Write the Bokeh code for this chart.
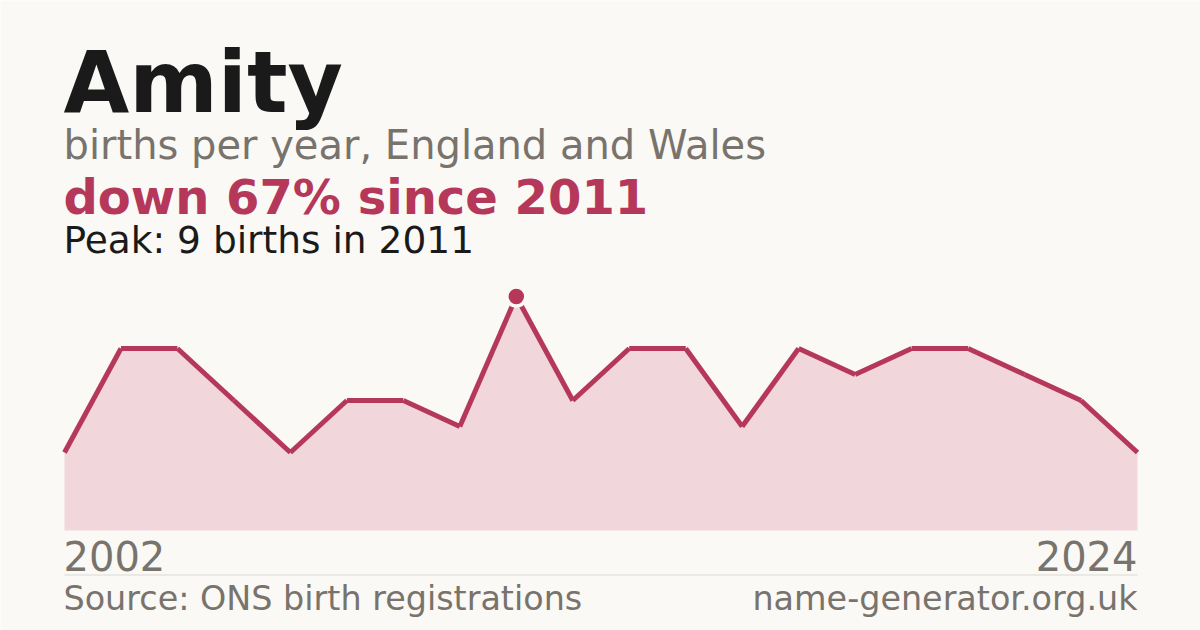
from bokeh.plotting import figure
from bokeh.models import Range1d, Label, ColumnDataSource
from bokeh.embed import file_html
from bokeh.resources import INLINE

# ---- data ----
name = "Amity"
years = [2002, 2003, 2004, 2005, 2006, 2007, 2008, 2010, 2011, 2012,
         2013, 2014, 2015, 2017, 2018, 2019, 2020, 2021, 2023, 2024]
births = [3, 7, 7, 5, 3, 5, 5, 4, 9, 5, 7, 7, 4, 7, 6, 7, 7, 6, 5, 3]
peak_year = 2011
peak_births = 9

# ---- style ----
BG = "#faf9f5"
RED = "#b5385a"
FILL = "#f1d6dc"
GREY = "#78736c"
INK = "#1a1a1a"
RULE = "#dcd9d3"
FONT = "DejaVu Sans"

n = len(births)
idx = list(range(n))

# pixel layout of the chart (canvas origin = picture top-left)
W, H = 1200, 630
LEFT_PX, RIGHT_PX = 64, 1137      # first / last point
BASE_PX, UNIT_PX = 530, 26        # zero line, pixels per birth
DX = (RIGHT_PX - LEFT_PX) / (n - 1)

def X(px):
    return (px - LEFT_PX) / DX

def Y(py):
    return (BASE_PX - py) / UNIT_PX

p = figure(width=W, height=H, output_backend="svg", toolbar_location=None,
           x_axis_type=None, y_axis_type=None,
           x_range=Range1d(X(0), X(W)), y_range=Range1d(Y(H), Y(0)),
           min_border=0, background_fill_color=BG, border_fill_color=BG,
           outline_line_color=None)

src = ColumnDataSource(dict(x=idx, y=births,
                            x1=idx[1:] + [idx[-1]], y1=births[1:] + [births[-1]]))

p.varea(x="x", y1=0, y2="y", source=src, fill_color=FILL)
p.segment(x0="x", y0="y", x1="x1", y1="y1", source=src,
          line_color=RED, line_width=5, line_cap="butt")

pk = years.index(peak_year)
p.scatter([idx[pk]], [births[pk]], size=19, fill_color=RED,
          line_color=BG, line_width=3.5)

# separator rule under the years
p.line([idx[0], idx[-1]], [Y(574.5), Y(574.5)], line_color=RULE, line_width=1)

def lab(text, px, py, size, color, bold=False, align="left"):
    # py is the wanted baseline; compensate the renderer's baseline offset
    p.add_layout(Label(x=X(px), y=Y(py - 0.36 * size), text=text, text_font=FONT,
                       text_font_size=f"{size}px",
                       text_font_style="bold" if bold else "normal",
                       text_color=color, text_align=align,
                       text_baseline="alphabetic"))

drop = round(100 * (peak_births - births[-1]) / peak_births)
lab(name, 63, 113, 85, INK, bold=True)
lab("births per year, England and Wales", 63, 159, 40, GREY)
lab(f"down {drop}% since {peak_year}", 63, 214, 48, RED, bold=True)
lab(f"Peak: {peak_births} births in {peak_year}", 63, 253, 37.5, INK)
lab(str(years[0]), 63, 570, 40, GREY)
lab(str(years[-1]), 1137, 570, 40, GREY, align="right")
lab("Source: ONS birth registrations", 63, 610, 33.4, GREY)
lab("name-generator.org.uk", 1137, 610, 33.4, GREY, align="right")

open("out.html", "w").write(file_html(p, INLINE))
